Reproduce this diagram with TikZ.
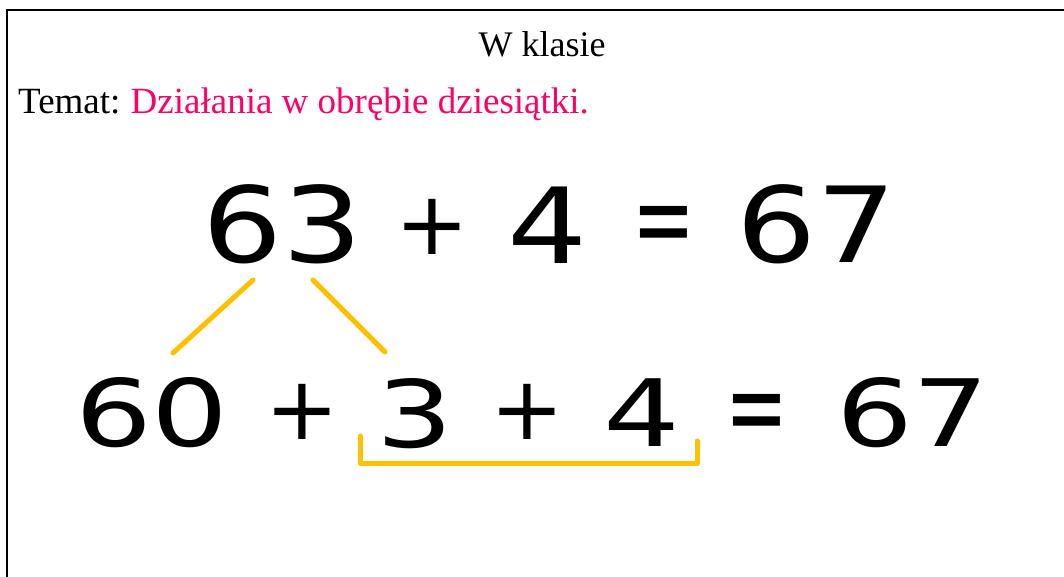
\documentclass[tikz,border=0pt]{standalone}
\usepackage{fontspec}
\setmainfont{Liberation Serif}
\newfontfamily\handfont{DejaVu Sans}
\definecolor{pinkt}{HTML}{FF0066}
\definecolor{goldl}{HTML}{FFC000}
\tikzset{
  tok/.style={inner sep=0pt, anchor=base},
  numA/.style={tok, xscale=1.2, font=\handfont\fontsize{105}{105}\selectfont},
  numB/.style={tok, xscale=1.3, font=\handfont\fontsize{93}{93}\selectfont},
  opplus/.style={tok, font=\handfont\fontsize{88}{88}\selectfont},
  opeq/.style={tok, yscale=1.5, font=\handfont\fontsize{75}{75}\selectfont},
  goldline/.style={draw=goldl, line width=5pt, line cap=round, line join=round},
  frameline/.style={draw=black, line width=1.4pt}
}
\begin{document}
\begin{tikzpicture}[x=1pt,y=-1pt]
\useasboundingbox (0,0) rectangle (1064,577);
\fill[white] (0,0) rectangle (1064,577);
\draw[frameline] (7,577) -- (7,10) -- (1064,10);
\node[anchor=base, inner sep=0pt, font=\fontsize{36}{36}\selectfont] (title) at (542,57) {W klasie};
\node[anchor=base west, inner sep=0pt, font=\fontsize{37}{37}\selectfont] (temat) at (18,114) {Temat:\hspace{-2pt} \textcolor{pinkt}{Działania w obrębie dziesiątki.}};
% row 1
\node[numA] (a63) at (283,262) {63};
\node[opplus] (aplus) at (432,254) {+};
\node[numA] (a4) at (548,263) {4};
\node[opeq] (aeq) at (664,257) {=};
\node[numA] (a67) at (817,262) {67};
% row 2
\node[numB] (b60) at (152,446) {60};
\node[opplus] (bplus1) at (302,439) {+};
\node[numB] (b3) at (415,447) {3};
\node[opplus] (bplus2) at (527,439) {+};
\node[numB] (b4) at (642,446) {4};
\node[opeq] (beq) at (757,445) {=};
\node[numB] (b67) at (913,446) {67};
% yellow connectors
\coordinate (l1s) at (253,280);
\coordinate (l1e) at (173,353);
\coordinate (l2s) at (313,280);
\coordinate (l2e) at (385,352);
\coordinate (brA) at (360,436);
\coordinate (brB) at (360,463);
\coordinate (brC) at (697,463);
\coordinate (brD) at (697,441);
\draw[goldline] (l1s) -- (l1e);
\draw[goldline] (l2s) -- (l2e);
\draw[goldline] (brA) -- (brB) -- (brC) -- (brD);
\end{tikzpicture}
\end{document}
